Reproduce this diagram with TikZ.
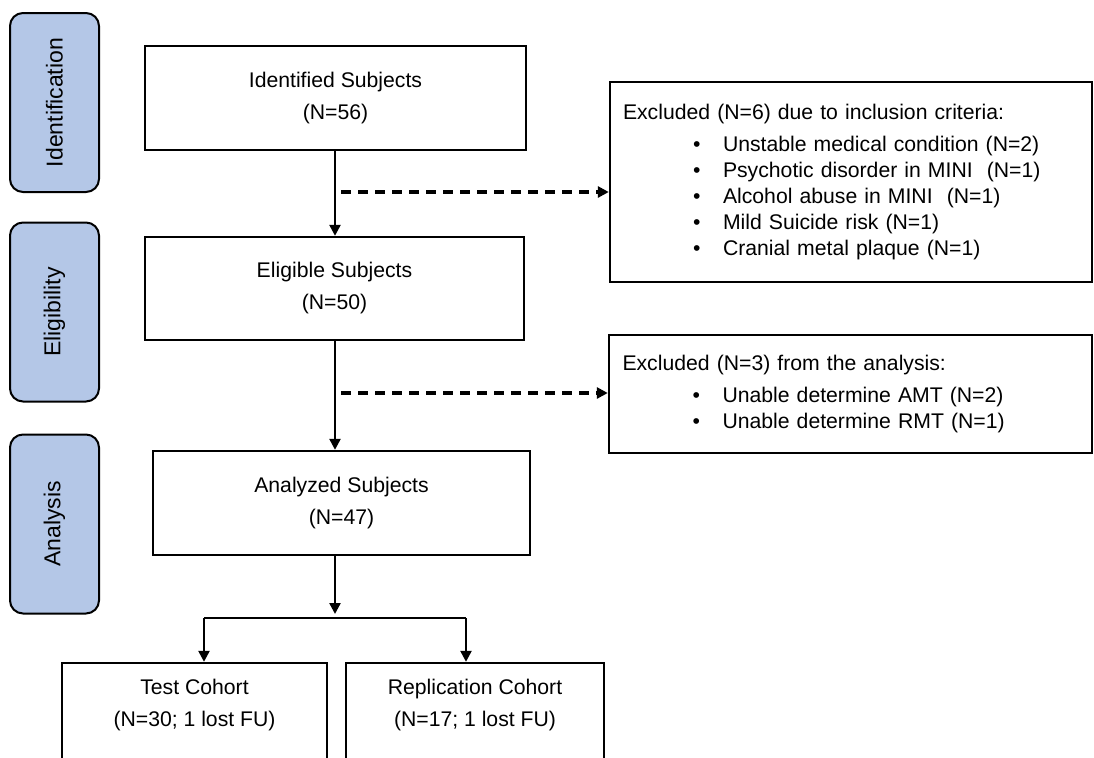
\documentclass[tikz,border=0pt]{standalone}
\usepackage{fontspec}
\setmainfont{Liberation Sans}
\usetikzlibrary{arrows.meta}
\definecolor{phasefill}{RGB}{180,199,231}
\newcommand\itm[1]{\hspace*{35pt}\makebox[15pt][l]{\textbullet}#1}
\begin{document}
\begin{tikzpicture}[x=0.5pt,y=-0.5pt,
  mainbox/.style={draw,line width=1.2pt,inner sep=0pt,align=center,
    font=\fontsize{10.6pt}{16pt}\selectfont},
  txt/.style={inner sep=0pt,align=center,font=\fontsize{10.6pt}{16pt}\selectfont},
  exbox/.style={draw,line width=1.2pt,inner sep=0pt,align=left,text width=228pt,
    font=\fontsize{10.6pt}{13pt}\selectfont},
  phase/.style={draw,line width=1pt,rounded corners=6.5pt,fill=phasefill,
    rotate=90,minimum width=89.5pt,minimum height=44.5pt,inner sep=0pt,
    font=\fontsize{11.5pt}{12pt}\selectfont},
  arr/.style={line width=1.2pt,-{Triangle[length=5.5pt,width=5.5pt]}},
  dasharr/.style={line width=1.6pt,dash pattern=on 5pt off 3.5pt,
    -{Triangle[length=5.5pt,width=5.5pt]}}]
\clip (0,0) rectangle (1094,757);
\fill[white] (0,0) rectangle (1094,757);
% phase labels
\node[phase] (pid) at (54.5,102.5) {Identification};
\node[phase] (pel) at (54.5,312) {Eligibility};
\node[phase] (pan) at (54.5,524) {Analysis};
% main boxes
\node[mainbox,minimum width=190.5pt,minimum height=52pt] (ident) at (335.5,98)
  {Identified Subjects\\(N=56)};
\node[mainbox,minimum width=189.5pt,minimum height=51.5pt] (elig) at (334.5,288.5)
  {Eligible Subjects\\(N=50)};
\node[mainbox,minimum width=188.5pt,minimum height=52pt] (anal) at (341.5,503)
  {Analyzed Subjects\\(N=47)};
% excluded boxes
\node[exbox,minimum width=241pt,minimum height=100pt] (ex1) at (851,182)
  {Excluded (N=6) due to inclusion criteria:\\[3pt]
   \itm{Unstable medical condition (N=2)}\\
   \itm{Psychotic disorder in MINI\ \ (N=1)}\\
   \itm{Alcohol abuse in MINI\ \ (N=1)}\\
   \itm{Mild Suicide risk (N=1)}\\
   \itm{Cranial metal plaque (N=1)}};
\node[exbox,minimum width=241.5pt,minimum height=59pt] (ex2) at (850.5,394)
  {Excluded (N=3) from the analysis:\\[3pt]
   \itm{Unable determine AMT (N=2)}\\
   \itm{Unable determine RMT (N=1)}};
% cohort boxes (cut off at bottom)
\node[draw,line width=1.2pt,minimum width=132.5pt,minimum height=63.5pt,inner sep=0pt] (test) at (194.5,726.5) {};
\node[draw,line width=1.2pt,minimum width=129pt,minimum height=63.5pt,inner sep=0pt] (rep) at (475,726.5) {};
\path (test.north) ++(0,43) node[txt] (testtxt) {Test Cohort\\(N=30; 1 lost FU)};
\path (rep.north) ++(0,43) node[txt] (reptxt) {Replication Cohort\\(N=17; 1 lost FU)};
% connectors
\coordinate (ids) at (335,150);
\coordinate (d1) at (341,192);
\coordinate (d2) at (341,393);
\coordinate (split) at (335,618);
\coordinate (sl) at (204,618);
\coordinate (sr) at (466,618);
\draw[arr] (ids |- ident.south) -- (ids |- elig.north);
\draw[dasharr] (d1) -- (d1 -| ex1.west);
\draw[arr] (ids |- elig.south) -- (ids |- anal.north);
\draw[dasharr] (d2) -- (d2 -| ex2.west);
\draw[arr] (ids |- anal.south) -- ([yshift=2pt]split);
\draw[line width=1.2pt] (sl) -- (sr);
\draw[arr] (sl) -- (sl |- test.north);
\draw[arr] (sr) -- (sr |- rep.north);
\end{tikzpicture}
\end{document}
